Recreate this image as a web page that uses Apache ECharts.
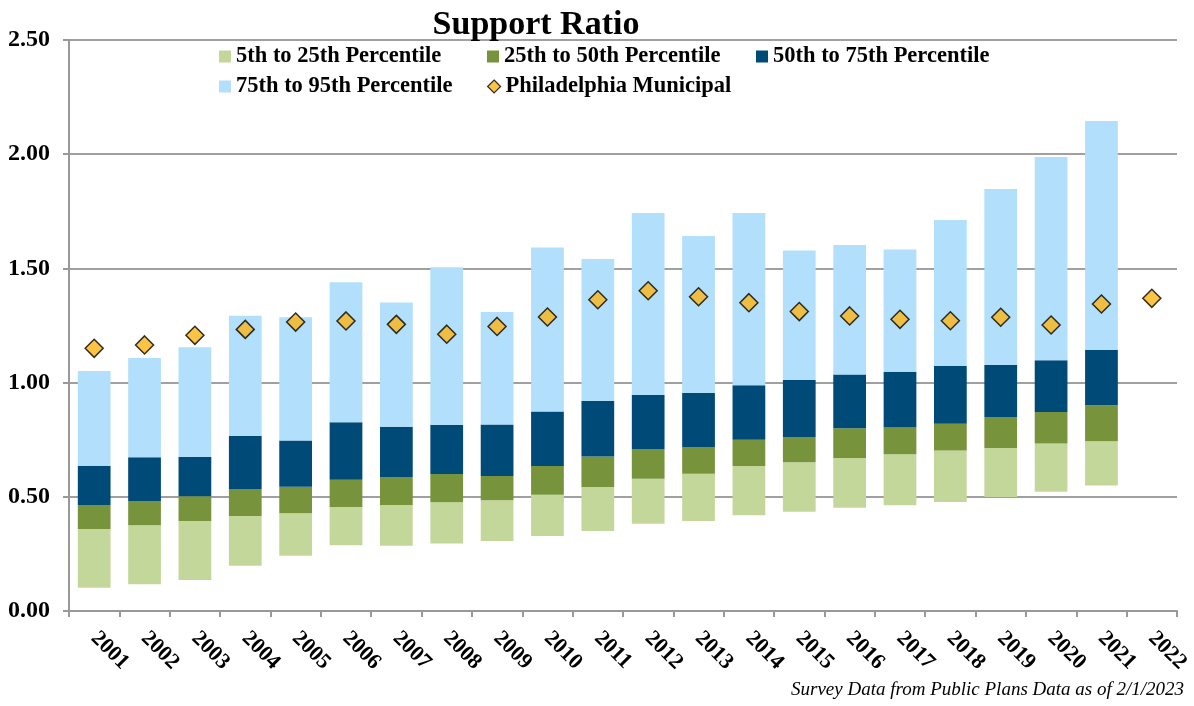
<!DOCTYPE html>
<html>
<head>
<meta charset="utf-8">
<script src="https://cdn.jsdelivr.net/npm/echarts@6/dist/echarts.min.js"></script>
<style>html,body{margin:0;padding:0;background:#fff}#c{width:1194px;height:706px}</style>
</head>
<body>
<div id="c"></div>
<script>
const years = ['2001','2002','2003','2004','2005','2006','2007','2008','2009','2010','2011','2012','2013','2014','2015','2016','2017','2018','2019','2020','2021','2022'];
const p5  = [0.102,0.117,0.136,0.198,0.242,0.288,0.286,0.295,0.306,0.328,0.350,0.382,0.394,0.419,0.435,0.452,0.463,0.477,0.499,0.522,0.549,null];
const p25 = [0.359,0.375,0.394,0.416,0.428,0.455,0.464,0.476,0.485,0.509,0.543,0.579,0.601,0.635,0.651,0.670,0.686,0.703,0.714,0.733,0.743,null];
const p50 = [0.464,0.482,0.502,0.534,0.544,0.575,0.587,0.600,0.591,0.635,0.676,0.709,0.718,0.750,0.762,0.800,0.803,0.820,0.849,0.871,0.901,null];
const p75 = [0.636,0.673,0.674,0.766,0.747,0.826,0.807,0.814,0.817,0.873,0.919,0.946,0.954,0.988,1.011,1.036,1.048,1.073,1.077,1.098,1.143,null];
const p95 = [1.051,1.108,1.155,1.293,1.286,1.439,1.351,1.505,1.309,1.591,1.541,1.743,1.642,1.743,1.578,1.602,1.583,1.712,1.848,1.988,2.145,null];
const phila = [1.150,1.165,1.207,1.233,1.265,1.270,1.255,1.212,1.246,1.287,1.363,1.402,1.376,1.350,1.311,1.292,1.277,1.271,1.286,1.252,1.344,1.369];
const yTicks = ['0.00','0.50','1.00','1.50','2.00','2.50'];

const names = ['5th to 25th Percentile','25th to 50th Percentile','50th to 75th Percentile','75th to 95th Percentile','Philadelphia Municipal'];
const colors = ['#c4d79b','#77933c','#004a78','#b2dffc','#fdb515'];

const diff = (a,b) => a.map((v,i)=> (v==null||b[i]==null)? null : +(v-b[i]).toFixed(3));
const FONT = 'Liberation Serif';

function leg(name, left, top, icon){
  const d = icon==='diamond';
  return {data:[{name:name, icon:icon, itemStyle: d?{borderColor:'#000',borderWidth:1.2}:undefined}], left:left, top:top,
    itemWidth: d?13:12, itemHeight: d?13:12, itemGap:0,
    textStyle:{fontFamily:FONT, fontWeight:'bold', fontSize:22.5, color:'#000'}, selectedMode:false, padding:0};
}

const chart = echarts.init(document.getElementById('c'));
chart.setOption({
  animation:false,
  title:{text:'Support Ratio', left:531, textAlign:'center', top:3, textStyle:{fontFamily:FONT, fontWeight:'bold', fontSize:34, color:'#000'}},
  legend:[
    leg(names[0], 219, 45, 'rect'),
    leg(names[1], 487, 45, 'rect'),
    leg(names[2], 756, 45, 'rect'),
    leg(names[3], 219, 75, 'rect'),
    leg(names[4], 487, 75, 'diamond')
  ],
  graphic:[{type:'text', right:10, top:680, style:{text:'Survey Data from Public Plans Data as of 2/1/2023', font:'italic 19px "Liberation Serif"', fill:'#000'}}],
  grid:{left:69, right:17, top:40, bottom:95},
  xAxis:{type:'category', data:years,
    axisLine:{lineStyle:{color:'#999', width:2}},
    axisTick:{show:true, alignWithLabel:false, length:6, lineStyle:{color:'#999', width:2}},
    axisLabel:{rotate:-45, interval:0, margin:24, fontFamily:FONT, fontWeight:'bold', fontSize:22, color:'#000', align:'left', verticalAlign:'middle'}
  },
  yAxis:{type:'value', min:0, max:2.5, interval:0.5,
    axisLine:{show:true, lineStyle:{color:'#999', width:2}},
    axisTick:{show:true, length:6, lineStyle:{color:'#999', width:2}},
    splitLine:{lineStyle:{color:'#a0a0a0', width:2}},
    axisLabel:{margin:19, fontFamily:FONT, fontWeight:'bold', fontSize:24, color:'#000', formatter:(v)=>yTicks[Math.round(v/0.5)]}
  },
  series:[
    {name:'base', type:'bar', stack:'s', data:p5, barWidth:'65%', itemStyle:{color:'rgba(0,0,0,0)'}, silent:true},
    {name:names[0], type:'bar', stack:'s', data:diff(p25,p5), itemStyle:{color:colors[0]}},
    {name:names[1], type:'bar', stack:'s', data:diff(p50,p25), itemStyle:{color:colors[1]}},
    {name:names[2], type:'bar', stack:'s', data:diff(p75,p50), itemStyle:{color:colors[2]}},
    {name:names[3], type:'bar', stack:'s', data:diff(p95,p75), itemStyle:{color:colors[3]}},
    {name:names[4], type:'scatter', data:phila, symbol:'diamond', symbolSize:[18,18], z:5, itemStyle:{color:colors[4], borderColor:'#000', borderWidth:1.5}}
  ]
});
</script>
</body>
</html>
